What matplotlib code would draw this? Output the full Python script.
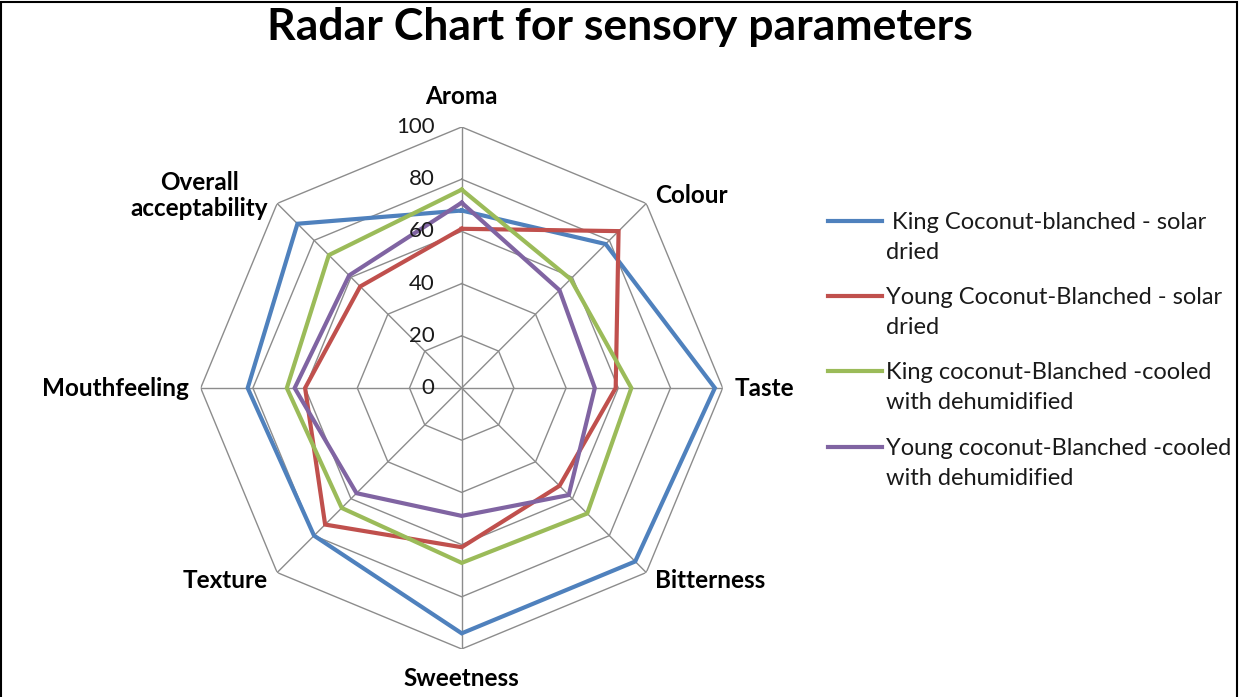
import numpy as np
import matplotlib
matplotlib.use("Agg")
import matplotlib.pyplot as plt
from matplotlib.lines import Line2D
from matplotlib.patches import Rectangle

plt.rcParams['font.family'] = ['Lato', 'DejaVu Sans']

categories = ["Aroma", "Colour", "Taste", "Bitterness", "Sweetness",
              "Texture", "Mouthfeeling", "Overall\nacceptability"]
king_solar = [68, 78, 97, 94, 94, 80, 82, 89]
young_solar = [61, 85, 59, 53, 61, 74, 60, 55]
king_cooled = [76, 59, 65, 68, 67, 65, 67, 72]
young_cooled = [71, 53, 51, 58, 49, 57, 64, 61]
series_names = [" King Coconut-blanched - solar\ndried",
                "Young Coconut-Blanched - solar\ndried",
                "King coconut-Blanched -cooled\nwith dehumidified",
                "Young coconut-Blanched -cooled\nwith dehumidified"]
series = [king_solar, young_solar, king_cooled, young_cooled]
colors = ["#4F81BD", "#C0504D", "#9BBB59", "#8064A2"]
r_ticks = [0, 20, 40, 60, 80, 100]

W, H = 1239, 697
fig = plt.figure(figsize=(W / 100, H / 100), dpi=100)

cx, cy, R = 461.7, 388, 261
ax = fig.add_axes([(cx - R) / W, (H - cy - R) / H, 2 * R / W, 2 * R / H],
                  projection='polar')
ax.set_theta_offset(np.pi / 2)
ax.set_theta_direction(-1)
ax.set_ylim(0, 100)
ax.grid(False)
ax.spines['polar'].set_visible(False)
ax.set_xticks([])
ax.set_yticks([])
ax.patch.set_alpha(0)

n = len(categories)
angles = np.arange(n) * 2 * np.pi / n
closed = np.append(angles, angles[0])

# octagon grid + spokes
grid_col = "#8c8c8c"
for lev in r_ticks[1:]:
    ax.plot(closed, [lev] * (n + 1), color=grid_col, lw=1.0, zorder=1)
for a in angles:
    ax.plot([a, a], [0, 100], color=grid_col, lw=1.0, zorder=1)

for vals, col, name in zip(series, colors, series_names):
    ax.plot(closed, list(vals) + [vals[0]], color=col, lw=3.0, zorder=3,
            solid_joinstyle='miter')

# radial tick labels
for t in r_ticks:
    ax.annotate(str(t), xy=(0, t), xytext=(-27, 0), textcoords='offset pixels',
                ha='right', va='center', fontsize=16, color='#1a1a1a')

# category labels
offsets = [(0, 30, 'center'), (9, 8, 'left'), (12, 0, 'left'), (9, -8, 'left'),
           (0, -29, 'center'), (-9, -8, 'right'), (-12, 0, 'right'), (-9, 8, 'right')]
for a, lab, (dx, dy, ha) in zip(angles, categories, offsets):
    ax.annotate(lab, xy=(a, 100), xytext=(dx, dy), textcoords='offset pixels',
                ha=ha, va='center', fontsize=17.5, fontweight='bold',
                multialignment='center', annotation_clip=False)

fig.suptitle("Radar Chart for sensory parameters", x=620 / W, y=1 - 27 / H,
             va='center', fontsize=32, fontweight='bold')

# legend
leg_y = [221, 296, 371, 447]
for yy, col, name in zip(leg_y, colors, series_names):
    fig.add_artist(Line2D([828 / W, 882 / W], [1 - yy / H, 1 - yy / H],
                          color=col, lw=3.0, transform=fig.transFigure))
    fig.text(886 / W, 1 - (yy + 16.5) / H, name, ha='left', va='center',
             fontsize=17, linespacing=1.55, color='#1a1a1a')

fig.add_artist(Rectangle((1 / W, -0.02), 1 - 3 / W, 1.02 - 2 / H, fill=False,
                         edgecolor='black', lw=1.5, transform=fig.transFigure))

fig.savefig("out.png", dpi=100)
